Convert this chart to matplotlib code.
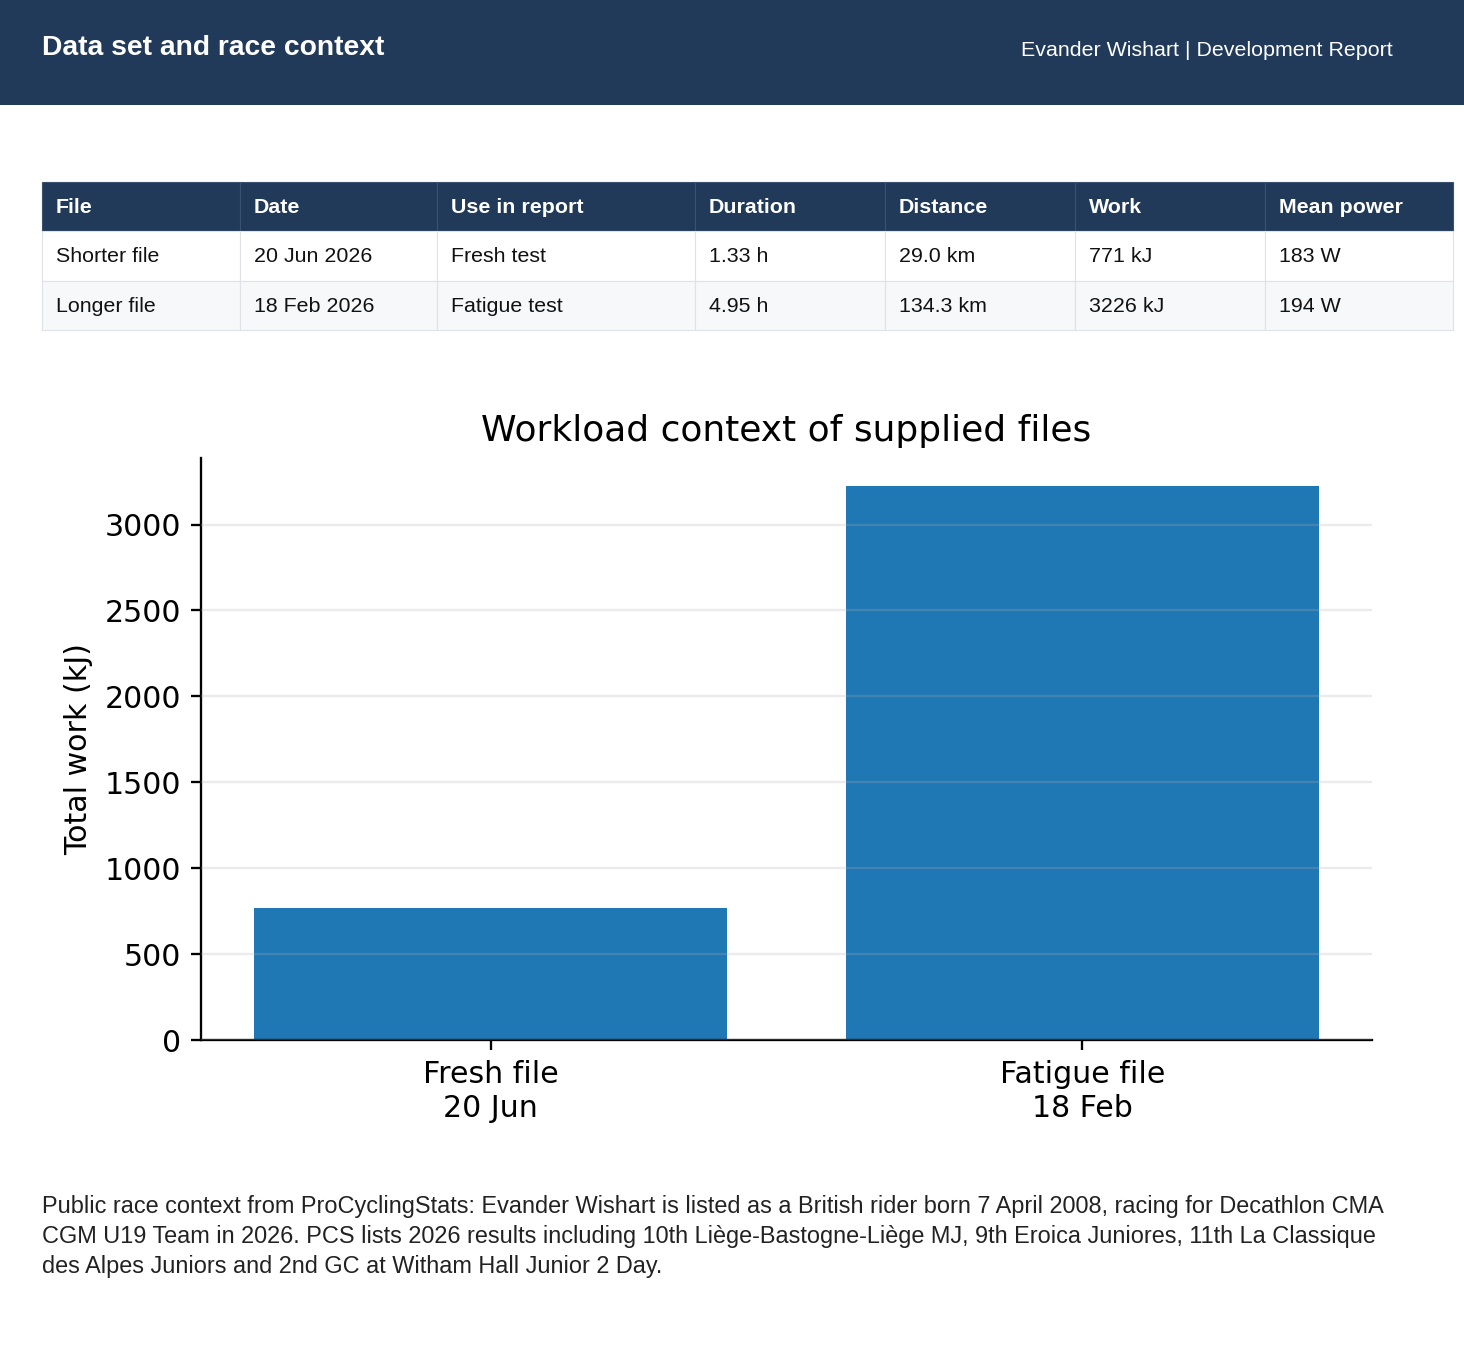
import matplotlib
matplotlib.use('Agg')
import matplotlib.pyplot as plt
from matplotlib.patches import Rectangle

# Data
file_labels = ["Fresh file\n20 Jun", "Fatigue file\n18 Feb"]
work_kj = [771, 3226]

table_header = ["File", "Date", "Use in report", "Duration", "Distance", "Work", "Mean power"]
table_rows = [
    ["Shorter file", "20 Jun 2026", "Fresh test", "1.33 h", "29.0 km", "771 kJ", "183 W"],
    ["Longer file", "18 Feb 2026", "Fatigue test", "4.95 h", "134.3 km", "3226 kJ", "194 W"],
]
col_edges = [42, 240, 437, 695, 885, 1075, 1265, 1453]

page_title = "Data set and race context"
page_tag = "Evander Wishart | Development Report"
context_lines = [
    "Public race context from ProCyclingStats: Evander Wishart is listed as a British rider born 7 April 2008, racing for Decathlon CMA",
    "CGM U19 Team in 2026. PCS lists 2026 results including 10th Liège-Bastogne-Liège MJ, 9th Eroica Juniores, 11th La Classique",
    "des Alpes Juniors and 2nd GC at Witham Hall Junior 2 Day.",
]

NAVY = '#213a59'
W, H = 1464, 1352
fig = plt.figure(figsize=(W / 100, H / 100), dpi=100)

# Page layer in pixel coordinates
page = fig.add_axes([0, 0, 1, 1])
page.set_xlim(0, W)
page.set_ylim(H, 0)
page.axis('off')

page.add_patch(Rectangle((0, 0), W, 105, color=NAVY, lw=0))
page.text(42, 48, page_title, color='white', fontsize=20.3, fontweight='bold',
          family='Liberation Sans', va='center', ha='left')
page.text(1393, 50, page_tag, color='white', fontsize=15.4,
          family='Liberation Sans', va='center', ha='right')

# Table
row_tops = [182, 231, 281, 330]
for i in range(3):
    top, bot = row_tops[i], row_tops[i + 1]
    if i == 0:
        bg, fg, weight, cells = NAVY, 'white', 'bold', table_header
    else:
        bg = 'white' if i == 1 else '#f7f8fa'
        fg, weight, cells = '#111111', 'normal', table_rows[i - 1]
    for j, txt in enumerate(cells):
        x0, x1 = col_edges[j], col_edges[j + 1]
        page.add_patch(Rectangle((x0, top), x1 - x0, bot - top, facecolor=bg,
                                 edgecolor='#dfe3e8' if i else '#3a5170', lw=0.8))
        page.text(x0 + 14, (top + bot) / 2 + 1, txt, color=fg, fontsize=15.4,
                  fontweight=weight, family='Liberation Sans', va='center', ha='left')

# Context paragraph
for k, line in enumerate(context_lines):
    page.text(42, 1207 + k * 30, line, color='#222222', fontsize=16.9,
              family='Liberation Sans', va='center', ha='left')

# Chart
s = 2.08
fs = 2.16
ax = fig.add_axes([201 / W, 1 - 1040 / H, 1171 / W, 582 / H])
ax.bar(range(len(work_kj)), work_kj, width=0.8, color='#1f77b4')
ax.set_xticks(range(len(work_kj)))
ax.set_xticklabels(file_labels, fontsize=10 * fs)
ax.tick_params(axis='y', labelsize=10 * fs)
ax.tick_params(width=0.8 * s, length=3.5 * s, pad=3.5 * s)
ax.set_ylabel("Total work (kJ)", fontsize=10 * fs, labelpad=4 * s)
ax.set_title("Workload context of supplied files", fontsize=12 * fs, pad=6 * s)
ax.grid(axis='y', color='#b0b0b0', alpha=0.25, linewidth=0.8 * s)
ax.set_axisbelow(False)
ax.spines['top'].set_visible(False)
ax.spines['right'].set_visible(False)
for sp in ['left', 'bottom']:
    ax.spines[sp].set_linewidth(0.8 * s)

fig.savefig('out.png', dpi=100)
